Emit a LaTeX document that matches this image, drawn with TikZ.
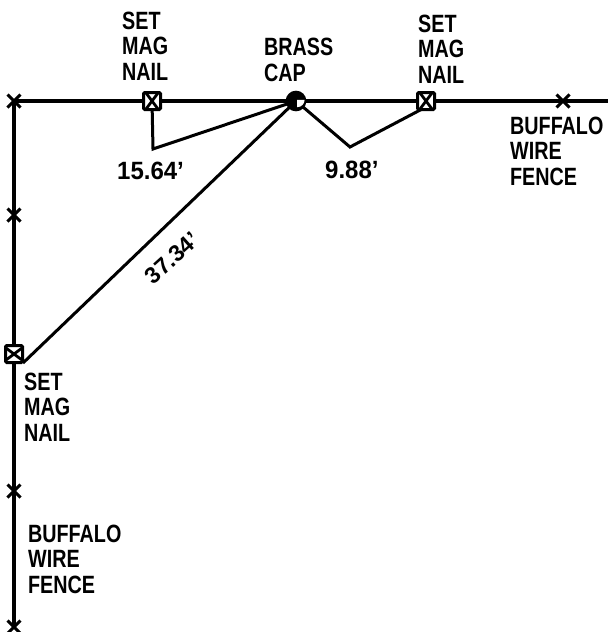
\documentclass[tikz,border=0pt]{standalone}
\usepackage{fontspec}
\usetikzlibrary{shapes.misc}
\setmainfont{Liberation Sans}
\tikzset{
  every picture/.style={x=1pt,y=-1pt},
  wire/.style={line width=3.2pt,black},
  thinwire/.style={line width=3pt,black},
  lbl/.style={inner sep=0pt,align=left,anchor=west,font=\bfseries\fontsize{25}{25.5}\selectfont,xscale=0.79},
  dim/.style={inner sep=0pt,anchor=west,font=\bfseries\fontsize{25}{25.5}\selectfont,xscale=0.96},
  xmark/.style={cross out,draw=black,line width=3pt,minimum size=10pt,inner sep=0pt},
  nailbox/.style={draw=black,fill=white,line width=3pt,rounded corners=1.2pt,minimum size=17pt,inner sep=0pt},
  nailx/.style={cross out,draw=black,line width=2.8pt,minimum size=13pt,inner sep=0pt},
  capnode/.style={circle,draw=black,line width=2.6pt,minimum size=18pt,inner sep=0pt,fill=black}
}
\begin{document}
\begin{tikzpicture}
\useasboundingbox (0,0) rectangle (608,632);
\coordinate (fenceEnd) at (608,101);
\coordinate (bendA) at (153,149);
\coordinate (bendB) at (350,147);
\node[xmark] (xcorner) at (14,101) {};
\node[xmark] (xright) at (563,101) {};
\node[xmark] (xleftA) at (14,215) {};
\node[xmark] (xleftB) at (14,491) {};
\node[xmark] (xleftC) at (14,627) {};
\coordinate (capc) at (296,101);
\coordinate (nailAc) at (152,101);
\coordinate (nailBc) at (426,101);
\coordinate (nailCc) at (14,354);
\draw[wire] (xcorner.center) -- (capc) -- (xright.center) -- (fenceEnd);
\draw[wire] (xcorner.center) -- (xleftA.center) -- (nailCc) -- (xleftB.center) -- (xleftC.center);
\draw[thinwire,line join=miter] (nailAc) -- (bendA) -- (capc);
\draw[thinwire,line join=miter] (capc) -- (bendB) -- (424,108);
\draw[thinwire] (capc) -- (23,363);
\node[nailbox] (nailA) at (nailAc) {};
\node[nailx,xscale=0.75] (nailAx) at (nailAc) {};
\node[nailbox] (nailB) at (nailBc) {};
\node[nailx,xscale=0.75] (nailBx) at (nailBc) {};
\node[nailbox] (nailC) at (nailCc) {};
\node[nailx,yscale=0.75] (nailCx) at (nailCc) {};
\node[capnode] (cap) at (capc) {};
\fill[white] (capc) ++(1.2,-1.2) -- ++(7.4,0) arc[start angle=0,end angle=90,radius=7.4] -- cycle;
\node[lbl] (lblA) at (122,46) {SET\\MAG\\NAIL};
\node[lbl] (lblCap) at (264,60) {BRASS\\CAP};
\node[lbl] (lblB) at (418,49) {SET\\MAG\\NAIL};
\node[lbl] (lblFenceA) at (510,151) {BUFFALO\\WIRE\\FENCE};
\node[lbl] (lblC) at (24,407) {SET\\MAG\\NAIL};
\node[lbl] (lblFenceB) at (28,559) {BUFFALO\\WIRE\\FENCE};
\node[dim] (dA) at (117,171) {15.64'};
\node[dim] (dB) at (325,170) {9.88'};
\node[inner sep=0pt,font=\bfseries\fontsize{23}{25.5}\selectfont,rotate=42] (dC) at (172,258) {37.34'};
\end{tikzpicture}
\end{document}
